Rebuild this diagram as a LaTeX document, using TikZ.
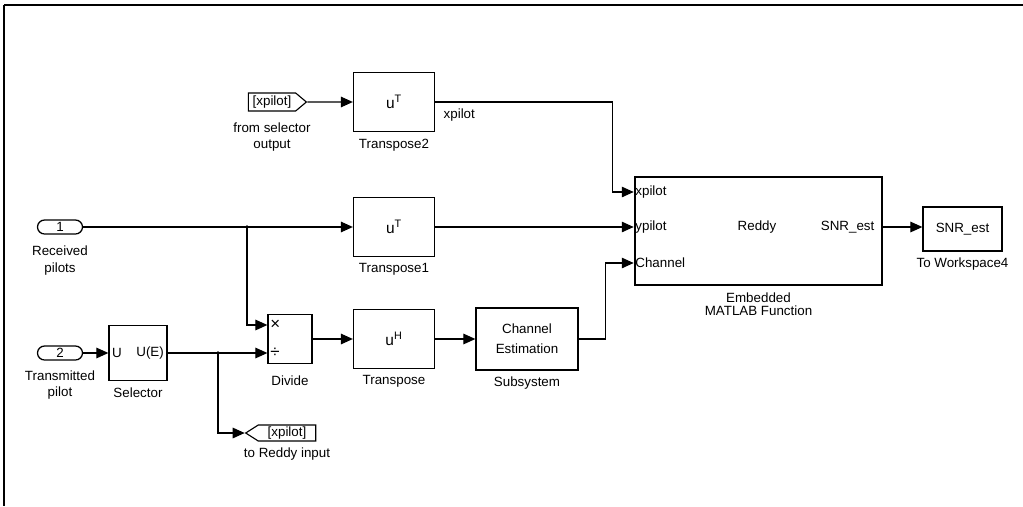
\documentclass[tikz,border=0pt]{standalone}
\usepackage{fontspec}
\setmainfont{Liberation Sans}
\usetikzlibrary{positioning,arrows.meta,calc,shapes.symbols}

\begin{document}
\begin{tikzpicture}[x=0.025cm,y=-0.025cm,
  lb/.style={font=\fontsize{9.5}{11.5}\selectfont, inner sep=1pt},
  blk/.style={draw, line width=0.9pt, inner sep=0pt, align=center, font=\fontsize{9.5}{14}\selectfont},
  tbox/.style={blk, minimum width=2.025cm, minimum height=1.475cm, font=\fontsize{11}{13}\selectfont},
  inport/.style={draw, line width=0.9pt, rounded corners=5pt, minimum width=1.125cm, minimum height=0.35cm, inner sep=0pt, font=\fontsize{9.5}{11}\selectfont},
  tag/.style={draw, line width=0.8pt, shape=signal, inner sep=1pt, font=\fontsize{9.5}{11}\selectfont},
  sig/.style={line width=0.8pt, -{Triangle[length=8.5pt,width=7.5pt]}}]
\useasboundingbox (0,0) rectangle (1023,506);
% window edge
\draw[line width=1.6pt] (4,5) -- (1023,5);
\draw[line width=0.8pt] (4,5) -- (4,506);

% top row
\node[tag, signal to=east, signal pointer angle=80, minimum width=1.45cm, minimum height=0.45cm] (from) at (272,102) {[xpilot]};
\node[lb, below=7pt of from, align=center] (froml) {from selector\\output};
\node[tbox] (t2) at (394,102) {u\textsuperscript{T}};
\node[lb, below=3.5pt of t2] (t2l) {Transpose2};
\node[lb, anchor=north west] (xsig) at (442,107) {xpilot};

% middle row
\node[inport] (in1) at (60,227) {1};
\node[lb, below=7pt of in1, align=center] (in1l) {Received\\pilots};
\node[tbox] (t1) at (394,227) {u\textsuperscript{T}};
\node[lb, below=3.5pt of t1] (t1l) {Transpose1};

% bottom row
\node[inport] (in2) at (60,353) {2};
\node[lb, below=6pt of in2, align=center] (in2l) {Transmitted\\pilot};
\node[blk, minimum width=1.45cm, minimum height=1.375cm] (sel) at (138,353) {};
\node[lb, anchor=west, inner sep=2.5pt] (selu) at (sel.west) {U};
\node[lb, anchor=east, inner sep=2.5pt] (sele) at (sel.east) {U(E)};
\node[lb, below=3.5pt of sel] (sell) {Selector};
\node[blk, minimum width=1.1cm, minimum height=1.225cm] (dv) at (290,339) {};
\node[lb, anchor=west, inner sep=2pt, font=\fontsize{12}{12}\selectfont] (dvm) at (dv.west |- 0,325) {×};
\node[lb, anchor=west, inner sep=2pt, font=\fontsize{12}{12}\selectfont] (dvd) at (dv.west |- 0,353) {÷};
\node[lb, below=7pt of dv] (dvl) {Divide};
\node[tbox] (tr) at (394,339) {u\textsuperscript{H}};
\node[lb, below=3.5pt of tr] (trl) {Transpose};
\node[blk, minimum width=2.55cm, minimum height=1.55cm] (sub) at (527,339) {Channel\\Estimation};
\node[lb, below=3.5pt of sub] (subl) {Subsystem};
\node[tag, signal to=west, signal pointer angle=65, minimum width=1.75cm, minimum height=0.4cm] (goto) at (287,433) {[xpilot]};
\node[lb, below=3pt of goto] (gotol) {to Reddy input};

% embedded function and sink
\node[blk, line width=1.8pt, minimum width=6.175cm, minimum height=2.7cm] (emb) at (758.5,231) {};
\node[lb, anchor=west] (px) at (emb.west |- 0,192) {xpilot};
\node[lb, anchor=west] (py) at (emb.west |- 0,227) {ypilot};
\node[lb, anchor=west] (pch) at (emb.west |- 0,263) {Channel};
\node[lb] (reddy) at (757,227) {Reddy};
\node[lb, anchor=east] (psnr) at (876,227) {SNR\_est};
\node[lb, below=3.5pt of emb, align=center, font=\fontsize{9.5}{9.5}\selectfont] (embl) {Embedded\\MATLAB Function};
\node[blk, minimum width=1.975cm, minimum height=1.1cm] (tows) at (962.5,229) {SNR\_est};
\node[lb, below=3.5pt of tows] (towsl) {To Workspace4};

% signals
\coordinate (br1) at (247,0 |- in1);
\coordinate (br2) at (218,0 |- sel);
\draw[sig] (from) -- (t2);
\draw[sig] (t2.east) -- ++(177,0) |- (px.west);
\draw[sig] (in1) -- (t1);
\draw[sig] (t1.east) -- (py.west);
\draw[sig] (br1) |- (dvm.west);
\draw[sig] (in2) -- (sel);
\draw[sig] (sel.east) -- (dvd.west);
\draw[sig] (br2) |- (goto.west);
\draw[sig] (dv) -- (tr);
\draw[sig] (tr) -- (sub);
\draw[sig] (sub.east) -- ++(27,0) |- (pch.west);
\draw[sig] (emb.east |- psnr) -- (tows.west |- psnr);
\fill (br1) circle (1.3pt);
\fill (br2) circle (1.3pt);
\end{tikzpicture}
\end{document}
